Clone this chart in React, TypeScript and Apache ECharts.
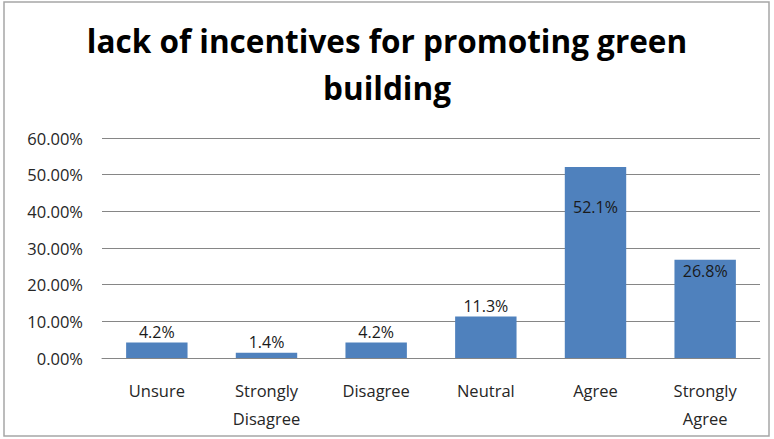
import React, { useEffect, useRef } from "react";
import * as echarts from "echarts";

const categories = ["Unsure", "Strongly\nDisagree", "Disagree", "Neutral", "Agree", "Strongly\nAgree"];
const values = [4.2, 1.4, 4.2, 11.3, 52.1, 26.8];
const titleText = "lack of incentives for promoting green\nbuilding";

export default function App() {
  const ref = useRef<HTMLDivElement>(null);
  useEffect(() => {
    if (!ref.current) return;
    const chart = echarts.init(ref.current, null, { renderer: "svg" });
    const font = "'Open Sans', Lato, sans-serif";
    const data = values.map((v) => {
      if (v > 50) return { value: v, label: { position: "insideTop", distance: 32 } };
      if (v > 20) return { value: v, label: { position: "insideTop", distance: 3 } };
      return { value: v };
    });
    chart.setOption({
      animation: false,
      backgroundColor: "#ffffff",
      title: {
        text: titleText,
        left: "center",
        top: 12,
        padding: [5, 5, 5, 25],
        textStyle: { fontFamily: font, fontSize: 31.5, fontWeight: "bold", color: "#000", lineHeight: 47 },
      },
      graphic: [
        {
          type: "rect",
          shape: { x: 4, y: 2, width: 765, height: 434 },
          style: { fill: "none", stroke: "#a6a6a6", lineWidth: 1.5 },
          silent: true,
        },
      ],
      grid: { left: 102, right: 14, top: 138, bottom: 81, containLabel: false },
      xAxis: {
        type: "category",
        data: categories,
        axisTick: { show: false },
        axisLine: { lineStyle: { color: "#868686", width: 1 } },
        axisLabel: { fontFamily: font, fontSize: 16.5, color: "#262626", margin: 18, lineHeight: 28, interval: 0 },
      },
      yAxis: {
        type: "value",
        min: 0,
        max: 60,
        interval: 10,
        axisLine: { show: false },
        axisTick: { show: false },
        splitLine: { lineStyle: { color: "#868686", width: 1 } },
        axisLabel: {
          fontFamily: font,
          fontSize: 16.5,
          color: "#262626",
          margin: 19,
          formatter: (v: number) => v.toFixed(2) + "%",
        },
      },
      series: [
        {
          type: "bar",
          data,
          barWidth: "56%",
          itemStyle: { color: "#4f81bd" },
          label: {
            show: true,
            position: "top",
            distance: 3,
            fontFamily: font,
            fontSize: 16,
            color: "#1a1a1a",
            formatter: (p: any) => p.value.toFixed(1) + "%",
          },
        },
      ],
    });
    return () => chart.dispose();
  }, []);
  return (
    <div style={{ position: "absolute", left: 0, top: 0, width: 774, height: 439 }}>
      <div ref={ref} style={{ width: 774, height: 439 }} />
    </div>
  );
}
